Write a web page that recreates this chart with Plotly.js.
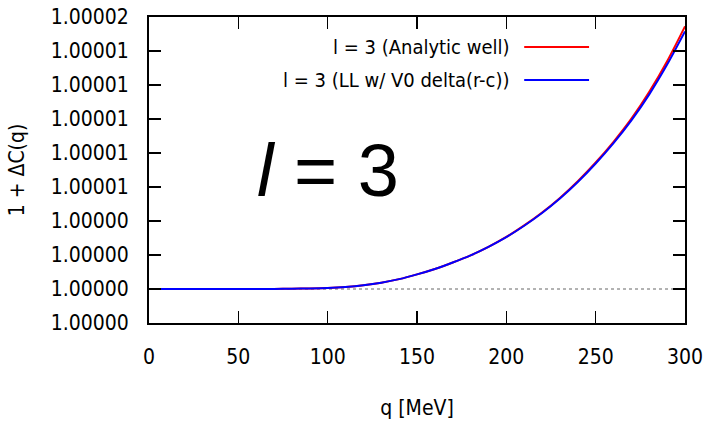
<!DOCTYPE html>
<html>
<head>
<meta charset="utf-8">
<script src="https://cdn.plot.ly/plotly-3.0.1.min.js"></script>
<style>
  html, body { margin: 0; padding: 0; background: #ffffff; }
  #chart { width: 710px; height: 421px; }
</style>
</head>
<body>
<div id="chart"></div>
<script>
// q [MeV]
const q = [0, 10, 20, 30, 40, 50, 60, 70, 80, 90, 100, 110, 120, 130, 140, 150,
           160, 170, 180, 190, 200, 210, 220, 230, 240, 250, 260, 270, 280, 290, 300];
// Delta C(q) in units of 1e-6
const deltaAnalytic = [0, 0, 0, 0, 0, 0, 0.002, 0.007, 0.016, 0.032, 0.06, 0.12, 0.22, 0.37, 0.58, 0.86,
                       1.18, 1.56, 1.98, 2.48, 3.06, 3.74, 4.5, 5.36, 6.34, 7.44, 8.66, 10.02, 11.6, 13.4, 15.45];
const deltaLL = [0, 0, 0, 0, 0, 0, 0.002, 0.007, 0.016, 0.032, 0.06, 0.12, 0.22, 0.37, 0.58, 0.86,
                 1.18, 1.56, 1.98, 2.48, 3.05, 3.72, 4.47, 5.32, 6.29, 7.38, 8.58, 9.92, 11.45, 13.2, 15.15];
const baseX = [0, 300];
const baseY = [1, 1];

const seriesNames = ["l = 3 (Analytic well)", "l = 3 (LL w/ V0 delta(r-c))"];
const seriesColors = ["#ff0000", "#0000ff"];

const yTickVals = [0.999998, 1.000000, 1.000002, 1.000004, 1.000006, 1.000008,
                   1.000010, 1.000012, 1.000014, 1.000016];
const yTickText = ["1.00000", "1.00000", "1.00000", "1.00000", "1.00001", "1.00001",
                   "1.00001", "1.00001", "1.00001", "1.00002"];
const xTickVals = [0, 50, 100, 150, 200, 250, 300];

const toY = arr => arr.map(d => 1 + d * 1e-6);

const FONT = "DejaVu Sans Condensed, DejaVu Sans, sans-serif";

const traces = [
  { x: baseX, y: baseY, mode: "lines", line: { color: "#666666", width: 1, dash: "3px,3px" },
    hoverinfo: "skip", showlegend: false },
  { x: q, y: toY(deltaAnalytic), mode: "lines", name: seriesNames[0],
    line: { color: seriesColors[0], width: 2, shape: "spline", smoothing: 0.8 } },
  { x: q, y: toY(deltaLL), mode: "lines", name: seriesNames[1],
    line: { color: seriesColors[1], width: 2, shape: "spline", smoothing: 0.8 } }
];

const legendRows = [0.902, 0.794];
const annotations = seriesNames.map((t, i) => ({
  xref: "paper", yref: "paper", x: 0.677, y: legendRows[i], xanchor: "right", yanchor: "middle",
  text: t, showarrow: false, font: { family: FONT, size: 20, color: "#000" }
}));
annotations.push({
  xref: "paper", yref: "paper", x: 0.334, y: 0.5, xanchor: "center", yanchor: "middle",
  text: "<i>l</i> = 3", showarrow: false,
  font: { family: "Liberation Sans, Arial, sans-serif", size: 74, color: "#000" }
});
const shapes = seriesColors.map((c, i) => ({
  type: "line", xref: "paper", yref: "paper", x0: 0.700, x1: 0.821,
  y0: legendRows[i], y1: legendRows[i], line: { color: c, width: 2 }
}));

const layout = {
  width: 710, height: 421,
  margin: { l: 149, r: 25, t: 17, b: 98 },
  paper_bgcolor: "#ffffff", plot_bgcolor: "#ffffff",
  showlegend: false,
  font: { family: FONT, size: 20, color: "#000" },
  xaxis: {
    range: [0, 300], tickvals: xTickVals, ticks: "inside", ticklen: 12, tickwidth: 1.5,
    tickcolor: "#000", showline: true, linecolor: "#000", linewidth: 2, mirror: "ticks",
    showgrid: false, zeroline: false, ticklabelstandoff: 14,
    tickfont: { family: FONT, size: 21, color: "#000" },
    title: { text: "q [MeV]", font: { family: FONT, size: 21, color: "#000" }, standoff: 32 }
  },
  yaxis: {
    range: [0.999998, 1.000016], tickvals: yTickVals, ticktext: yTickText,
    ticks: "inside", ticklen: 12, tickwidth: 1.5, tickcolor: "#000",
    showline: true, linecolor: "#000", linewidth: 2, mirror: "ticks",
    showgrid: false, zeroline: false, ticklabelstandoff: 14,
    tickfont: { family: FONT, size: 21, color: "#000" },
    title: { text: "1 + ΔC(q)", font: { family: FONT, size: 21, color: "#000" }, standoff: 20 }
  },
  annotations: annotations,
  shapes: shapes
};

Plotly.newPlot("chart", traces, layout, { displayModeBar: false, staticPlot: true });
</script>
</body>
</html>
